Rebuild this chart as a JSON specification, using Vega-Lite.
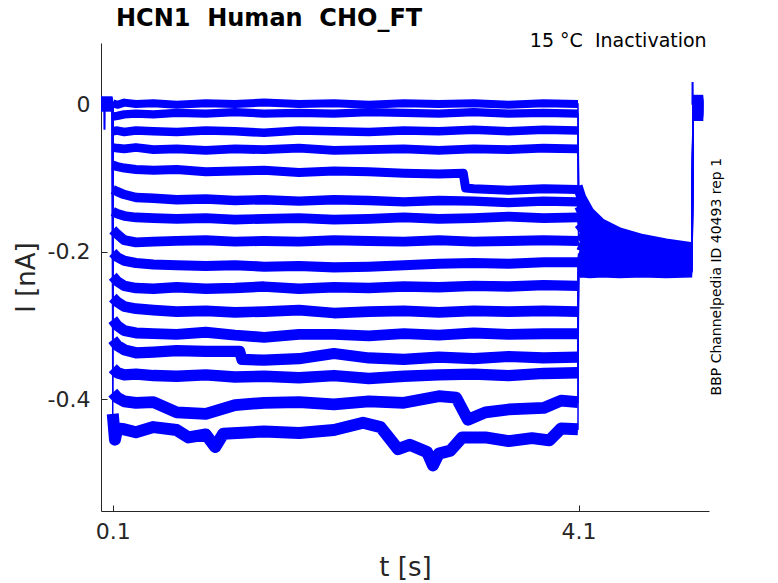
{
  "$schema": "https://vega.github.io/schema/vega-lite/v6.json",
  "autosize": {"type": "none"},
  "padding": {"left": 101, "top": 43, "right": 69, "bottom": 72},
  "width": 608,
  "height": 468,
  "background": "white",
  "title": {
    "text": "HCN1\u00a0 Human\u00a0 CHO_FT",
    "anchor": "start",
    "frame": "group",
    "dx": 15,
    "offset": 1,
    "font": "DejaVu Sans",
    "fontSize": 24,
    "fontWeight": "bold",
    "color": "#000000"
  },
  "data": {
    "values": [
      {"sweep": 1, "part": "base", "t": 0, "i": 0.002},
      {"sweep": 1, "part": "base", "t": 0.099, "i": 0.002},
      {"sweep": 1, "part": "test", "t": 0.101, "i": 0.002},
      {"sweep": 1, "part": "test", "t": 0.14, "i": 0.0},
      {"sweep": 1, "part": "test", "t": 0.2, "i": 0.003},
      {"sweep": 1, "part": "test", "t": 0.3, "i": 0.001},
      {"sweep": 1, "part": "test", "t": 0.45, "i": 0.002},
      {"sweep": 1, "part": "test", "t": 0.65, "i": 0.0},
      {"sweep": 1, "part": "test", "t": 0.9, "i": 0.002},
      {"sweep": 1, "part": "test", "t": 1.15, "i": 0.001},
      {"sweep": 1, "part": "test", "t": 1.4, "i": 0.003},
      {"sweep": 1, "part": "test", "t": 1.7, "i": 0.001},
      {"sweep": 1, "part": "test", "t": 2.0, "i": 0.002},
      {"sweep": 1, "part": "test", "t": 2.3, "i": 0.0},
      {"sweep": 1, "part": "test", "t": 2.6, "i": 0.002},
      {"sweep": 1, "part": "test", "t": 2.9, "i": 0.001},
      {"sweep": 1, "part": "test", "t": 3.2, "i": 0.002},
      {"sweep": 1, "part": "test", "t": 3.5, "i": 0.0},
      {"sweep": 1, "part": "test", "t": 3.8, "i": 0.002},
      {"sweep": 1, "part": "test", "t": 4.095, "i": 0.001},
      {"sweep": 1, "part": "tail", "t": 4.1, "i": -0.11},
      {"sweep": 1, "part": "tail", "t": 4.13, "i": -0.125},
      {"sweep": 1, "part": "tail", "t": 4.2, "i": -0.145},
      {"sweep": 1, "part": "tail", "t": 4.3, "i": -0.16},
      {"sweep": 1, "part": "tail", "t": 4.45, "i": -0.172},
      {"sweep": 1, "part": "tail", "t": 4.65, "i": -0.181},
      {"sweep": 1, "part": "tail", "t": 4.85, "i": -0.187},
      {"sweep": 1, "part": "tail", "t": 5.075, "i": -0.192},
      {"sweep": 1, "part": "post", "t": 5.082, "i": 0.004},
      {"sweep": 1, "part": "post", "t": 5.17, "i": 0.004},

      {"sweep": 2, "part": "base", "t": 0, "i": 0.0},
      {"sweep": 2, "part": "base", "t": 0.099, "i": 0.0},
      {"sweep": 2, "part": "test", "t": 0.101, "i": -0.016},
      {"sweep": 2, "part": "test", "t": 0.14, "i": -0.015},
      {"sweep": 2, "part": "test", "t": 0.2, "i": -0.013},
      {"sweep": 2, "part": "test", "t": 0.3, "i": -0.012},
      {"sweep": 2, "part": "test", "t": 0.45, "i": -0.013},
      {"sweep": 2, "part": "test", "t": 0.65, "i": -0.011},
      {"sweep": 2, "part": "test", "t": 0.9, "i": -0.012},
      {"sweep": 2, "part": "test", "t": 1.15, "i": -0.01},
      {"sweep": 2, "part": "test", "t": 1.4, "i": -0.012},
      {"sweep": 2, "part": "test", "t": 1.7, "i": -0.011},
      {"sweep": 2, "part": "test", "t": 2.0, "i": -0.012},
      {"sweep": 2, "part": "test", "t": 2.3, "i": -0.01},
      {"sweep": 2, "part": "test", "t": 2.6, "i": -0.011},
      {"sweep": 2, "part": "test", "t": 2.9, "i": -0.012},
      {"sweep": 2, "part": "test", "t": 3.2, "i": -0.01},
      {"sweep": 2, "part": "test", "t": 3.5, "i": -0.012},
      {"sweep": 2, "part": "test", "t": 3.8, "i": -0.011},
      {"sweep": 2, "part": "test", "t": 4.095, "i": -0.012},
      {"sweep": 2, "part": "tail", "t": 4.1, "i": -0.118},
      {"sweep": 2, "part": "tail", "t": 4.13, "i": -0.132},
      {"sweep": 2, "part": "tail", "t": 4.2, "i": -0.15},
      {"sweep": 2, "part": "tail", "t": 4.3, "i": -0.165},
      {"sweep": 2, "part": "tail", "t": 4.45, "i": -0.176},
      {"sweep": 2, "part": "tail", "t": 4.65, "i": -0.184},
      {"sweep": 2, "part": "tail", "t": 4.85, "i": -0.19},
      {"sweep": 2, "part": "tail", "t": 5.075, "i": -0.195},
      {"sweep": 2, "part": "post", "t": 5.082, "i": -0.002},
      {"sweep": 2, "part": "post", "t": 5.17, "i": -0.002},

      {"sweep": 3, "part": "base", "t": 0, "i": 0.004},
      {"sweep": 3, "part": "base", "t": 0.099, "i": 0.004},
      {"sweep": 3, "part": "test", "t": 0.101, "i": -0.036},
      {"sweep": 3, "part": "test", "t": 0.14, "i": -0.035},
      {"sweep": 3, "part": "test", "t": 0.2, "i": -0.037},
      {"sweep": 3, "part": "test", "t": 0.3, "i": -0.035},
      {"sweep": 3, "part": "test", "t": 0.45, "i": -0.036},
      {"sweep": 3, "part": "test", "t": 0.65, "i": -0.037},
      {"sweep": 3, "part": "test", "t": 0.9, "i": -0.035},
      {"sweep": 3, "part": "test", "t": 1.15, "i": -0.036},
      {"sweep": 3, "part": "test", "t": 1.4, "i": -0.038},
      {"sweep": 3, "part": "test", "t": 1.7, "i": -0.035},
      {"sweep": 3, "part": "test", "t": 2.0, "i": -0.036},
      {"sweep": 3, "part": "test", "t": 2.3, "i": -0.037},
      {"sweep": 3, "part": "test", "t": 2.6, "i": -0.035},
      {"sweep": 3, "part": "test", "t": 2.9, "i": -0.036},
      {"sweep": 3, "part": "test", "t": 3.2, "i": -0.034},
      {"sweep": 3, "part": "test", "t": 3.5, "i": -0.036},
      {"sweep": 3, "part": "test", "t": 3.8, "i": -0.034},
      {"sweep": 3, "part": "test", "t": 4.095, "i": -0.035},
      {"sweep": 3, "part": "tail", "t": 4.1, "i": -0.128},
      {"sweep": 3, "part": "tail", "t": 4.13, "i": -0.14},
      {"sweep": 3, "part": "tail", "t": 4.2, "i": -0.156},
      {"sweep": 3, "part": "tail", "t": 4.3, "i": -0.17},
      {"sweep": 3, "part": "tail", "t": 4.45, "i": -0.18},
      {"sweep": 3, "part": "tail", "t": 4.65, "i": -0.188},
      {"sweep": 3, "part": "tail", "t": 4.85, "i": -0.193},
      {"sweep": 3, "part": "tail", "t": 5.075, "i": -0.197},
      {"sweep": 3, "part": "post", "t": 5.082, "i": 0.007},
      {"sweep": 3, "part": "post", "t": 5.17, "i": 0.007},

      {"sweep": 4, "part": "base", "t": 0, "i": -0.002},
      {"sweep": 4, "part": "base", "t": 0.099, "i": -0.002},
      {"sweep": 4, "part": "test", "t": 0.101, "i": -0.058},
      {"sweep": 4, "part": "test", "t": 0.14, "i": -0.059},
      {"sweep": 4, "part": "test", "t": 0.2, "i": -0.06},
      {"sweep": 4, "part": "test", "t": 0.3, "i": -0.058},
      {"sweep": 4, "part": "test", "t": 0.45, "i": -0.061},
      {"sweep": 4, "part": "test", "t": 0.65, "i": -0.06},
      {"sweep": 4, "part": "test", "t": 0.9, "i": -0.062},
      {"sweep": 4, "part": "test", "t": 1.15, "i": -0.06},
      {"sweep": 4, "part": "test", "t": 1.4, "i": -0.061},
      {"sweep": 4, "part": "test", "t": 1.7, "i": -0.059},
      {"sweep": 4, "part": "test", "t": 2.0, "i": -0.062},
      {"sweep": 4, "part": "test", "t": 2.3, "i": -0.061},
      {"sweep": 4, "part": "test", "t": 2.6, "i": -0.06},
      {"sweep": 4, "part": "test", "t": 2.9, "i": -0.062},
      {"sweep": 4, "part": "test", "t": 3.2, "i": -0.06},
      {"sweep": 4, "part": "test", "t": 3.5, "i": -0.061},
      {"sweep": 4, "part": "test", "t": 3.8, "i": -0.059},
      {"sweep": 4, "part": "test", "t": 4.095, "i": -0.06},
      {"sweep": 4, "part": "tail", "t": 4.1, "i": -0.138},
      {"sweep": 4, "part": "tail", "t": 4.13, "i": -0.148},
      {"sweep": 4, "part": "tail", "t": 4.2, "i": -0.162},
      {"sweep": 4, "part": "tail", "t": 4.3, "i": -0.175},
      {"sweep": 4, "part": "tail", "t": 4.45, "i": -0.184},
      {"sweep": 4, "part": "tail", "t": 4.65, "i": -0.191},
      {"sweep": 4, "part": "tail", "t": 4.85, "i": -0.196},
      {"sweep": 4, "part": "tail", "t": 5.075, "i": -0.199},
      {"sweep": 4, "part": "post", "t": 5.082, "i": -0.008},
      {"sweep": 4, "part": "post", "t": 5.17, "i": -0.008},

      {"sweep": 5, "part": "base", "t": 0, "i": 0.001},
      {"sweep": 5, "part": "base", "t": 0.099, "i": 0.001},
      {"sweep": 5, "part": "test", "t": 0.101, "i": -0.082},
      {"sweep": 5, "part": "test", "t": 0.14, "i": -0.084},
      {"sweep": 5, "part": "test", "t": 0.2, "i": -0.086},
      {"sweep": 5, "part": "test", "t": 0.3, "i": -0.088},
      {"sweep": 5, "part": "test", "t": 0.45, "i": -0.089},
      {"sweep": 5, "part": "test", "t": 0.65, "i": -0.088},
      {"sweep": 5, "part": "test", "t": 0.9, "i": -0.091},
      {"sweep": 5, "part": "test", "t": 1.15, "i": -0.09},
      {"sweep": 5, "part": "test", "t": 1.4, "i": -0.089},
      {"sweep": 5, "part": "test", "t": 1.7, "i": -0.092},
      {"sweep": 5, "part": "test", "t": 2.0, "i": -0.09},
      {"sweep": 5, "part": "test", "t": 2.3, "i": -0.091},
      {"sweep": 5, "part": "test", "t": 2.6, "i": -0.093},
      {"sweep": 5, "part": "test", "t": 2.9, "i": -0.094},
      {"sweep": 5, "part": "test", "t": 3.11, "i": -0.093},
      {"sweep": 5, "part": "test", "t": 3.13, "i": -0.113},
      {"sweep": 5, "part": "test", "t": 3.2, "i": -0.114},
      {"sweep": 5, "part": "test", "t": 3.5, "i": -0.116},
      {"sweep": 5, "part": "test", "t": 3.8, "i": -0.114},
      {"sweep": 5, "part": "test", "t": 4.095, "i": -0.115},
      {"sweep": 5, "part": "tail", "t": 4.1, "i": -0.15},
      {"sweep": 5, "part": "tail", "t": 4.13, "i": -0.158},
      {"sweep": 5, "part": "tail", "t": 4.2, "i": -0.17},
      {"sweep": 5, "part": "tail", "t": 4.3, "i": -0.181},
      {"sweep": 5, "part": "tail", "t": 4.45, "i": -0.189},
      {"sweep": 5, "part": "tail", "t": 4.65, "i": -0.195},
      {"sweep": 5, "part": "tail", "t": 4.85, "i": -0.199},
      {"sweep": 5, "part": "tail", "t": 5.075, "i": -0.202},
      {"sweep": 5, "part": "post", "t": 5.082, "i": 0.001},
      {"sweep": 5, "part": "post", "t": 5.17, "i": 0.001},

      {"sweep": 6, "part": "base", "t": 0, "i": 0.003},
      {"sweep": 6, "part": "base", "t": 0.099, "i": 0.003},
      {"sweep": 6, "part": "test", "t": 0.101, "i": -0.115},
      {"sweep": 6, "part": "test", "t": 0.14, "i": -0.118},
      {"sweep": 6, "part": "test", "t": 0.2, "i": -0.122},
      {"sweep": 6, "part": "test", "t": 0.3, "i": -0.126},
      {"sweep": 6, "part": "test", "t": 0.45, "i": -0.127},
      {"sweep": 6, "part": "test", "t": 0.65, "i": -0.129},
      {"sweep": 6, "part": "test", "t": 0.9, "i": -0.128},
      {"sweep": 6, "part": "test", "t": 1.15, "i": -0.13},
      {"sweep": 6, "part": "test", "t": 1.4, "i": -0.129},
      {"sweep": 6, "part": "test", "t": 1.7, "i": -0.131},
      {"sweep": 6, "part": "test", "t": 2.0, "i": -0.129},
      {"sweep": 6, "part": "test", "t": 2.3, "i": -0.13},
      {"sweep": 6, "part": "test", "t": 2.6, "i": -0.132},
      {"sweep": 6, "part": "test", "t": 2.9, "i": -0.13},
      {"sweep": 6, "part": "test", "t": 3.2, "i": -0.131},
      {"sweep": 6, "part": "test", "t": 3.5, "i": -0.133},
      {"sweep": 6, "part": "test", "t": 3.8, "i": -0.131},
      {"sweep": 6, "part": "test", "t": 4.095, "i": -0.132},
      {"sweep": 6, "part": "tail", "t": 4.1, "i": -0.162},
      {"sweep": 6, "part": "tail", "t": 4.13, "i": -0.168},
      {"sweep": 6, "part": "tail", "t": 4.2, "i": -0.178},
      {"sweep": 6, "part": "tail", "t": 4.3, "i": -0.187},
      {"sweep": 6, "part": "tail", "t": 4.45, "i": -0.194},
      {"sweep": 6, "part": "tail", "t": 4.65, "i": -0.199},
      {"sweep": 6, "part": "tail", "t": 4.85, "i": -0.203},
      {"sweep": 6, "part": "tail", "t": 5.075, "i": -0.205},
      {"sweep": 6, "part": "post", "t": 5.082, "i": -0.012},
      {"sweep": 6, "part": "post", "t": 5.17, "i": -0.012},

      {"sweep": 7, "part": "base", "t": 0, "i": -0.001},
      {"sweep": 7, "part": "base", "t": 0.099, "i": -0.001},
      {"sweep": 7, "part": "test", "t": 0.101, "i": -0.145},
      {"sweep": 7, "part": "test", "t": 0.14, "i": -0.148},
      {"sweep": 7, "part": "test", "t": 0.2, "i": -0.151},
      {"sweep": 7, "part": "test", "t": 0.3, "i": -0.153},
      {"sweep": 7, "part": "test", "t": 0.45, "i": -0.154},
      {"sweep": 7, "part": "test", "t": 0.65, "i": -0.155},
      {"sweep": 7, "part": "test", "t": 0.9, "i": -0.154},
      {"sweep": 7, "part": "test", "t": 1.15, "i": -0.156},
      {"sweep": 7, "part": "test", "t": 1.4, "i": -0.155},
      {"sweep": 7, "part": "test", "t": 1.7, "i": -0.154},
      {"sweep": 7, "part": "test", "t": 2.0, "i": -0.156},
      {"sweep": 7, "part": "test", "t": 2.3, "i": -0.155},
      {"sweep": 7, "part": "test", "t": 2.6, "i": -0.153},
      {"sweep": 7, "part": "test", "t": 2.9, "i": -0.155},
      {"sweep": 7, "part": "test", "t": 3.2, "i": -0.154},
      {"sweep": 7, "part": "test", "t": 3.5, "i": -0.152},
      {"sweep": 7, "part": "test", "t": 3.8, "i": -0.154},
      {"sweep": 7, "part": "test", "t": 4.095, "i": -0.153},
      {"sweep": 7, "part": "tail", "t": 4.1, "i": -0.176},
      {"sweep": 7, "part": "tail", "t": 4.13, "i": -0.18},
      {"sweep": 7, "part": "tail", "t": 4.2, "i": -0.187},
      {"sweep": 7, "part": "tail", "t": 4.3, "i": -0.194},
      {"sweep": 7, "part": "tail", "t": 4.45, "i": -0.2},
      {"sweep": 7, "part": "tail", "t": 4.65, "i": -0.204},
      {"sweep": 7, "part": "tail", "t": 4.85, "i": -0.207},
      {"sweep": 7, "part": "tail", "t": 5.075, "i": -0.208},
      {"sweep": 7, "part": "post", "t": 5.082, "i": 0.005},
      {"sweep": 7, "part": "post", "t": 5.17, "i": 0.005},

      {"sweep": 8, "part": "base", "t": 0, "i": 0.002},
      {"sweep": 8, "part": "base", "t": 0.099, "i": 0.002},
      {"sweep": 8, "part": "test", "t": 0.101, "i": -0.17},
      {"sweep": 8, "part": "test", "t": 0.14, "i": -0.176},
      {"sweep": 8, "part": "test", "t": 0.2, "i": -0.184},
      {"sweep": 8, "part": "test", "t": 0.3, "i": -0.187},
      {"sweep": 8, "part": "test", "t": 0.45, "i": -0.186},
      {"sweep": 8, "part": "test", "t": 0.65, "i": -0.185},
      {"sweep": 8, "part": "test", "t": 0.9, "i": -0.184},
      {"sweep": 8, "part": "test", "t": 1.15, "i": -0.186},
      {"sweep": 8, "part": "test", "t": 1.4, "i": -0.185},
      {"sweep": 8, "part": "test", "t": 1.7, "i": -0.186},
      {"sweep": 8, "part": "test", "t": 2.0, "i": -0.184},
      {"sweep": 8, "part": "test", "t": 2.3, "i": -0.185},
      {"sweep": 8, "part": "test", "t": 2.6, "i": -0.186},
      {"sweep": 8, "part": "test", "t": 2.9, "i": -0.184},
      {"sweep": 8, "part": "test", "t": 3.2, "i": -0.186},
      {"sweep": 8, "part": "test", "t": 3.5, "i": -0.185},
      {"sweep": 8, "part": "test", "t": 3.8, "i": -0.184},
      {"sweep": 8, "part": "test", "t": 4.095, "i": -0.185},
      {"sweep": 8, "part": "tail", "t": 4.1, "i": -0.19},
      {"sweep": 8, "part": "tail", "t": 4.13, "i": -0.192},
      {"sweep": 8, "part": "tail", "t": 4.2, "i": -0.197},
      {"sweep": 8, "part": "tail", "t": 4.3, "i": -0.202},
      {"sweep": 8, "part": "tail", "t": 4.45, "i": -0.206},
      {"sweep": 8, "part": "tail", "t": 4.65, "i": -0.209},
      {"sweep": 8, "part": "tail", "t": 4.85, "i": -0.211},
      {"sweep": 8, "part": "tail", "t": 5.075, "i": -0.212},
      {"sweep": 8, "part": "post", "t": 5.082, "i": -0.004},
      {"sweep": 8, "part": "post", "t": 5.17, "i": -0.004},

      {"sweep": 9, "part": "base", "t": 0, "i": 0.0},
      {"sweep": 9, "part": "base", "t": 0.099, "i": 0.0},
      {"sweep": 9, "part": "test", "t": 0.101, "i": -0.201},
      {"sweep": 9, "part": "test", "t": 0.14, "i": -0.207},
      {"sweep": 9, "part": "test", "t": 0.2, "i": -0.212},
      {"sweep": 9, "part": "test", "t": 0.3, "i": -0.215},
      {"sweep": 9, "part": "test", "t": 0.45, "i": -0.217},
      {"sweep": 9, "part": "test", "t": 0.65, "i": -0.218},
      {"sweep": 9, "part": "test", "t": 0.9, "i": -0.219},
      {"sweep": 9, "part": "test", "t": 1.15, "i": -0.218},
      {"sweep": 9, "part": "test", "t": 1.4, "i": -0.22},
      {"sweep": 9, "part": "test", "t": 1.7, "i": -0.219},
      {"sweep": 9, "part": "test", "t": 2.0, "i": -0.221},
      {"sweep": 9, "part": "test", "t": 2.3, "i": -0.22},
      {"sweep": 9, "part": "test", "t": 2.6, "i": -0.218},
      {"sweep": 9, "part": "test", "t": 2.9, "i": -0.216},
      {"sweep": 9, "part": "test", "t": 3.2, "i": -0.215},
      {"sweep": 9, "part": "test", "t": 3.5, "i": -0.216},
      {"sweep": 9, "part": "test", "t": 3.8, "i": -0.214},
      {"sweep": 9, "part": "test", "t": 4.095, "i": -0.214},
      {"sweep": 9, "part": "tail", "t": 4.1, "i": -0.203},
      {"sweep": 9, "part": "tail", "t": 4.13, "i": -0.204},
      {"sweep": 9, "part": "tail", "t": 4.2, "i": -0.207},
      {"sweep": 9, "part": "tail", "t": 4.3, "i": -0.21},
      {"sweep": 9, "part": "tail", "t": 4.45, "i": -0.212},
      {"sweep": 9, "part": "tail", "t": 4.65, "i": -0.214},
      {"sweep": 9, "part": "tail", "t": 4.85, "i": -0.215},
      {"sweep": 9, "part": "tail", "t": 5.075, "i": -0.215},
      {"sweep": 9, "part": "post", "t": 5.082, "i": -0.015},
      {"sweep": 9, "part": "post", "t": 5.17, "i": -0.015},

      {"sweep": 10, "part": "base", "t": 0, "i": 0.003},
      {"sweep": 10, "part": "base", "t": 0.099, "i": 0.003},
      {"sweep": 10, "part": "test", "t": 0.101, "i": -0.233},
      {"sweep": 10, "part": "test", "t": 0.14, "i": -0.24},
      {"sweep": 10, "part": "test", "t": 0.2, "i": -0.246},
      {"sweep": 10, "part": "test", "t": 0.3, "i": -0.249},
      {"sweep": 10, "part": "test", "t": 0.45, "i": -0.25},
      {"sweep": 10, "part": "test", "t": 0.65, "i": -0.248},
      {"sweep": 10, "part": "test", "t": 0.9, "i": -0.25},
      {"sweep": 10, "part": "test", "t": 1.15, "i": -0.249},
      {"sweep": 10, "part": "test", "t": 1.4, "i": -0.247},
      {"sweep": 10, "part": "test", "t": 1.7, "i": -0.25},
      {"sweep": 10, "part": "test", "t": 2.0, "i": -0.248},
      {"sweep": 10, "part": "test", "t": 2.3, "i": -0.249},
      {"sweep": 10, "part": "test", "t": 2.6, "i": -0.247},
      {"sweep": 10, "part": "test", "t": 2.9, "i": -0.248},
      {"sweep": 10, "part": "test", "t": 3.2, "i": -0.246},
      {"sweep": 10, "part": "test", "t": 3.5, "i": -0.247},
      {"sweep": 10, "part": "test", "t": 3.8, "i": -0.245},
      {"sweep": 10, "part": "test", "t": 4.095, "i": -0.246},
      {"sweep": 10, "part": "tail", "t": 4.1, "i": -0.212},
      {"sweep": 10, "part": "tail", "t": 4.13, "i": -0.213},
      {"sweep": 10, "part": "tail", "t": 4.2, "i": -0.215},
      {"sweep": 10, "part": "tail", "t": 4.3, "i": -0.216},
      {"sweep": 10, "part": "tail", "t": 4.45, "i": -0.217},
      {"sweep": 10, "part": "tail", "t": 4.65, "i": -0.218},
      {"sweep": 10, "part": "tail", "t": 4.85, "i": -0.218},
      {"sweep": 10, "part": "tail", "t": 5.075, "i": -0.218},
      {"sweep": 10, "part": "post", "t": 5.082, "i": 0.002},
      {"sweep": 10, "part": "post", "t": 5.17, "i": 0.002},

      {"sweep": 11, "part": "base", "t": 0, "i": -0.002},
      {"sweep": 11, "part": "base", "t": 0.099, "i": -0.002},
      {"sweep": 11, "part": "test", "t": 0.101, "i": -0.262},
      {"sweep": 11, "part": "test", "t": 0.14, "i": -0.268},
      {"sweep": 11, "part": "test", "t": 0.2, "i": -0.274},
      {"sweep": 11, "part": "test", "t": 0.3, "i": -0.277},
      {"sweep": 11, "part": "test", "t": 0.45, "i": -0.279},
      {"sweep": 11, "part": "test", "t": 0.65, "i": -0.281},
      {"sweep": 11, "part": "test", "t": 0.9, "i": -0.28},
      {"sweep": 11, "part": "test", "t": 1.15, "i": -0.282},
      {"sweep": 11, "part": "test", "t": 1.4, "i": -0.281},
      {"sweep": 11, "part": "test", "t": 1.7, "i": -0.279},
      {"sweep": 11, "part": "test", "t": 2.0, "i": -0.283},
      {"sweep": 11, "part": "test", "t": 2.3, "i": -0.281},
      {"sweep": 11, "part": "test", "t": 2.6, "i": -0.28},
      {"sweep": 11, "part": "test", "t": 2.9, "i": -0.282},
      {"sweep": 11, "part": "test", "t": 3.2, "i": -0.28},
      {"sweep": 11, "part": "test", "t": 3.5, "i": -0.281},
      {"sweep": 11, "part": "test", "t": 3.8, "i": -0.28},
      {"sweep": 11, "part": "test", "t": 4.095, "i": -0.281},
      {"sweep": 11, "part": "tail", "t": 4.1, "i": -0.22},
      {"sweep": 11, "part": "tail", "t": 4.13, "i": -0.219},
      {"sweep": 11, "part": "tail", "t": 4.2, "i": -0.221},
      {"sweep": 11, "part": "tail", "t": 4.3, "i": -0.22},
      {"sweep": 11, "part": "tail", "t": 4.45, "i": -0.221},
      {"sweep": 11, "part": "tail", "t": 4.65, "i": -0.221},
      {"sweep": 11, "part": "tail", "t": 4.85, "i": -0.22},
      {"sweep": 11, "part": "tail", "t": 5.075, "i": -0.221},
      {"sweep": 11, "part": "post", "t": 5.082, "i": -0.006},
      {"sweep": 11, "part": "post", "t": 5.17, "i": -0.006},

      {"sweep": 12, "part": "base", "t": 0, "i": 0.001},
      {"sweep": 12, "part": "base", "t": 0.099, "i": 0.001},
      {"sweep": 12, "part": "test", "t": 0.101, "i": -0.292},
      {"sweep": 12, "part": "test", "t": 0.14, "i": -0.3},
      {"sweep": 12, "part": "test", "t": 0.2, "i": -0.307},
      {"sweep": 12, "part": "test", "t": 0.3, "i": -0.31},
      {"sweep": 12, "part": "test", "t": 0.45, "i": -0.311},
      {"sweep": 12, "part": "test", "t": 0.65, "i": -0.312},
      {"sweep": 12, "part": "test", "t": 0.9, "i": -0.309},
      {"sweep": 12, "part": "test", "t": 1.15, "i": -0.313},
      {"sweep": 12, "part": "test", "t": 1.4, "i": -0.316},
      {"sweep": 12, "part": "test", "t": 1.7, "i": -0.312},
      {"sweep": 12, "part": "test", "t": 2.0, "i": -0.312},
      {"sweep": 12, "part": "test", "t": 2.3, "i": -0.314},
      {"sweep": 12, "part": "test", "t": 2.6, "i": -0.311},
      {"sweep": 12, "part": "test", "t": 2.9, "i": -0.313},
      {"sweep": 12, "part": "test", "t": 3.2, "i": -0.31},
      {"sweep": 12, "part": "test", "t": 3.5, "i": -0.312},
      {"sweep": 12, "part": "test", "t": 3.8, "i": -0.311},
      {"sweep": 12, "part": "test", "t": 4.095, "i": -0.311},
      {"sweep": 12, "part": "tail", "t": 4.1, "i": -0.225},
      {"sweep": 12, "part": "tail", "t": 4.13, "i": -0.224},
      {"sweep": 12, "part": "tail", "t": 4.2, "i": -0.225},
      {"sweep": 12, "part": "tail", "t": 4.3, "i": -0.224},
      {"sweep": 12, "part": "tail", "t": 4.45, "i": -0.225},
      {"sweep": 12, "part": "tail", "t": 4.65, "i": -0.224},
      {"sweep": 12, "part": "tail", "t": 4.85, "i": -0.225},
      {"sweep": 12, "part": "tail", "t": 5.075, "i": -0.224},
      {"sweep": 12, "part": "post", "t": 5.082, "i": -0.01},
      {"sweep": 12, "part": "post", "t": 5.17, "i": -0.01},

      {"sweep": 13, "part": "base", "t": 0, "i": 0.004},
      {"sweep": 13, "part": "base", "t": 0.099, "i": 0.004},
      {"sweep": 13, "part": "test", "t": 0.101, "i": -0.319},
      {"sweep": 13, "part": "test", "t": 0.14, "i": -0.327},
      {"sweep": 13, "part": "test", "t": 0.2, "i": -0.333},
      {"sweep": 13, "part": "test", "t": 0.3, "i": -0.337},
      {"sweep": 13, "part": "test", "t": 0.45, "i": -0.336},
      {"sweep": 13, "part": "test", "t": 0.65, "i": -0.334},
      {"sweep": 13, "part": "test", "t": 0.9, "i": -0.335},
      {"sweep": 13, "part": "test", "t": 1.19, "i": -0.335},
      {"sweep": 13, "part": "test", "t": 1.21, "i": -0.346},
      {"sweep": 13, "part": "test", "t": 1.4, "i": -0.347},
      {"sweep": 13, "part": "test", "t": 1.7, "i": -0.345},
      {"sweep": 13, "part": "test", "t": 2.0, "i": -0.338},
      {"sweep": 13, "part": "test", "t": 2.3, "i": -0.344},
      {"sweep": 13, "part": "test", "t": 2.6, "i": -0.346},
      {"sweep": 13, "part": "test", "t": 2.9, "i": -0.343},
      {"sweep": 13, "part": "test", "t": 3.2, "i": -0.345},
      {"sweep": 13, "part": "test", "t": 3.5, "i": -0.342},
      {"sweep": 13, "part": "test", "t": 3.8, "i": -0.344},
      {"sweep": 13, "part": "test", "t": 4.095, "i": -0.343},
      {"sweep": 13, "part": "tail", "t": 4.1, "i": -0.228},
      {"sweep": 13, "part": "tail", "t": 4.13, "i": -0.227},
      {"sweep": 13, "part": "tail", "t": 4.2, "i": -0.228},
      {"sweep": 13, "part": "tail", "t": 4.3, "i": -0.227},
      {"sweep": 13, "part": "tail", "t": 4.45, "i": -0.228},
      {"sweep": 13, "part": "tail", "t": 4.65, "i": -0.227},
      {"sweep": 13, "part": "tail", "t": 4.85, "i": -0.228},
      {"sweep": 13, "part": "tail", "t": 5.075, "i": -0.227},
      {"sweep": 13, "part": "post", "t": 5.082, "i": 0.006},
      {"sweep": 13, "part": "post", "t": 5.17, "i": 0.006},

      {"sweep": 14, "part": "base", "t": 0, "i": -0.001},
      {"sweep": 14, "part": "base", "t": 0.099, "i": -0.001},
      {"sweep": 14, "part": "test", "t": 0.101, "i": -0.358},
      {"sweep": 14, "part": "test", "t": 0.14, "i": -0.364},
      {"sweep": 14, "part": "test", "t": 0.2, "i": -0.367},
      {"sweep": 14, "part": "test", "t": 0.3, "i": -0.366},
      {"sweep": 14, "part": "test", "t": 0.45, "i": -0.368},
      {"sweep": 14, "part": "test", "t": 0.65, "i": -0.369},
      {"sweep": 14, "part": "test", "t": 0.9, "i": -0.367},
      {"sweep": 14, "part": "test", "t": 1.15, "i": -0.37},
      {"sweep": 14, "part": "test", "t": 1.4, "i": -0.369},
      {"sweep": 14, "part": "test", "t": 1.7, "i": -0.371},
      {"sweep": 14, "part": "test", "t": 2.0, "i": -0.368},
      {"sweep": 14, "part": "test", "t": 2.3, "i": -0.372},
      {"sweep": 14, "part": "test", "t": 2.6, "i": -0.369},
      {"sweep": 14, "part": "test", "t": 2.9, "i": -0.367},
      {"sweep": 14, "part": "test", "t": 3.2, "i": -0.366},
      {"sweep": 14, "part": "test", "t": 3.5, "i": -0.368},
      {"sweep": 14, "part": "test", "t": 3.8, "i": -0.365},
      {"sweep": 14, "part": "test", "t": 4.095, "i": -0.364},
      {"sweep": 14, "part": "tail", "t": 4.1, "i": -0.222},
      {"sweep": 14, "part": "tail", "t": 4.13, "i": -0.223},
      {"sweep": 14, "part": "tail", "t": 4.2, "i": -0.222},
      {"sweep": 14, "part": "tail", "t": 4.3, "i": -0.223},
      {"sweep": 14, "part": "tail", "t": 4.45, "i": -0.222},
      {"sweep": 14, "part": "tail", "t": 4.65, "i": -0.223},
      {"sweep": 14, "part": "tail", "t": 4.85, "i": -0.222},
      {"sweep": 14, "part": "tail", "t": 5.075, "i": -0.223},
      {"sweep": 14, "part": "post", "t": 5.082, "i": -0.001},
      {"sweep": 14, "part": "post", "t": 5.17, "i": -0.001},

      {"sweep": 15, "part": "base", "t": 0, "i": 0.002},
      {"sweep": 15, "part": "base", "t": 0.099, "i": 0.002},
      {"sweep": 15, "part": "test", "t": 0.101, "i": -0.391},
      {"sweep": 15, "part": "test", "t": 0.14, "i": -0.398},
      {"sweep": 15, "part": "test", "t": 0.2, "i": -0.403},
      {"sweep": 15, "part": "test", "t": 0.3, "i": -0.405},
      {"sweep": 15, "part": "test", "t": 0.45, "i": -0.404},
      {"sweep": 15, "part": "test", "t": 0.65, "i": -0.418},
      {"sweep": 15, "part": "test", "t": 0.9, "i": -0.42},
      {"sweep": 15, "part": "test", "t": 1.15, "i": -0.408},
      {"sweep": 15, "part": "test", "t": 1.4, "i": -0.405},
      {"sweep": 15, "part": "test", "t": 1.7, "i": -0.404},
      {"sweep": 15, "part": "test", "t": 2.0, "i": -0.407},
      {"sweep": 15, "part": "test", "t": 2.3, "i": -0.403},
      {"sweep": 15, "part": "test", "t": 2.6, "i": -0.405},
      {"sweep": 15, "part": "test", "t": 2.9, "i": -0.396},
      {"sweep": 15, "part": "test", "t": 3.05, "i": -0.398},
      {"sweep": 15, "part": "test", "t": 3.15, "i": -0.428},
      {"sweep": 15, "part": "test", "t": 3.3, "i": -0.418},
      {"sweep": 15, "part": "test", "t": 3.5, "i": -0.414},
      {"sweep": 15, "part": "test", "t": 3.8, "i": -0.412},
      {"sweep": 15, "part": "test", "t": 3.95, "i": -0.402},
      {"sweep": 15, "part": "test", "t": 4.095, "i": -0.404},
      {"sweep": 15, "part": "tail", "t": 4.1, "i": -0.216},
      {"sweep": 15, "part": "tail", "t": 4.13, "i": -0.217},
      {"sweep": 15, "part": "tail", "t": 4.2, "i": -0.216},
      {"sweep": 15, "part": "tail", "t": 4.3, "i": -0.217},
      {"sweep": 15, "part": "tail", "t": 4.45, "i": -0.216},
      {"sweep": 15, "part": "tail", "t": 4.65, "i": -0.217},
      {"sweep": 15, "part": "tail", "t": 4.85, "i": -0.216},
      {"sweep": 15, "part": "tail", "t": 5.075, "i": -0.217},
      {"sweep": 15, "part": "post", "t": 5.082, "i": -0.014},
      {"sweep": 15, "part": "post", "t": 5.17, "i": -0.014},

      {"sweep": 16, "part": "base", "t": 0, "i": 0.0},
      {"sweep": 16, "part": "base", "t": 0.099, "i": 0.0},
      {"sweep": 16, "part": "test", "t": 0.101, "i": -0.42},
      {"sweep": 16, "part": "test", "t": 0.12, "i": -0.455},
      {"sweep": 16, "part": "test", "t": 0.14, "i": -0.44},
      {"sweep": 16, "part": "test", "t": 0.2, "i": -0.441},
      {"sweep": 16, "part": "test", "t": 0.3, "i": -0.445},
      {"sweep": 16, "part": "test", "t": 0.45, "i": -0.438},
      {"sweep": 16, "part": "test", "t": 0.65, "i": -0.442},
      {"sweep": 16, "part": "test", "t": 0.75, "i": -0.452},
      {"sweep": 16, "part": "test", "t": 0.9, "i": -0.448},
      {"sweep": 16, "part": "test", "t": 0.98, "i": -0.465},
      {"sweep": 16, "part": "test", "t": 1.05, "i": -0.447},
      {"sweep": 16, "part": "test", "t": 1.4, "i": -0.444},
      {"sweep": 16, "part": "test", "t": 1.7, "i": -0.446},
      {"sweep": 16, "part": "test", "t": 2.0, "i": -0.442},
      {"sweep": 16, "part": "test", "t": 2.25, "i": -0.432},
      {"sweep": 16, "part": "test", "t": 2.4, "i": -0.438},
      {"sweep": 16, "part": "test", "t": 2.5, "i": -0.458},
      {"sweep": 16, "part": "test", "t": 2.55, "i": -0.468},
      {"sweep": 16, "part": "test", "t": 2.65, "i": -0.462},
      {"sweep": 16, "part": "test", "t": 2.8, "i": -0.472},
      {"sweep": 16, "part": "test", "t": 2.85, "i": -0.49},
      {"sweep": 16, "part": "test", "t": 2.9, "i": -0.474},
      {"sweep": 16, "part": "test", "t": 3.0, "i": -0.47},
      {"sweep": 16, "part": "test", "t": 3.1, "i": -0.452},
      {"sweep": 16, "part": "test", "t": 3.3, "i": -0.452},
      {"sweep": 16, "part": "test", "t": 3.5, "i": -0.457},
      {"sweep": 16, "part": "test", "t": 3.7, "i": -0.453},
      {"sweep": 16, "part": "test", "t": 3.85, "i": -0.456},
      {"sweep": 16, "part": "test", "t": 3.95, "i": -0.44},
      {"sweep": 16, "part": "test", "t": 4.095, "i": -0.441},
      {"sweep": 16, "part": "tail", "t": 4.1, "i": -0.208},
      {"sweep": 16, "part": "tail", "t": 4.13, "i": -0.21},
      {"sweep": 16, "part": "tail", "t": 4.2, "i": -0.209},
      {"sweep": 16, "part": "tail", "t": 4.3, "i": -0.21},
      {"sweep": 16, "part": "tail", "t": 4.45, "i": -0.211},
      {"sweep": 16, "part": "tail", "t": 4.65, "i": -0.211},
      {"sweep": 16, "part": "tail", "t": 4.85, "i": -0.212},
      {"sweep": 16, "part": "tail", "t": 5.075, "i": -0.212},
      {"sweep": 16, "part": "post", "t": 5.082, "i": -0.003},
      {"sweep": 16, "part": "post", "t": 5.17, "i": -0.003}
    ]
  },
  "layer": [
    {
      "mark": {"type": "line", "color": "#0000ff", "strokeJoin": "round", "strokeCap": "butt"},
      "encoding": {
        "x": {
          "field": "t",
          "type": "quantitative",
          "scale": {"domain": [0, 5.22], "nice": false, "zero": false},
          "axis": {"values": [0.1, 4.1], "format": ".1f", "title": "t [s]", "labelPadding": 16, "titlePadding": 12}
        },
        "y": {
          "field": "i",
          "type": "quantitative",
          "scale": {"domain": [-0.552, 0.084], "nice": false, "zero": false},
          "axis": {
            "values": [-0.4, -0.2, 0],
            "labelExpr": "datum.value == 0 ? '0' : '-' + format(-datum.value, '.1f')",
            "title": "I [nA]",
            "labelPadding": 17,
            "titlePadding": 8
          }
        },
        "strokeWidth": {"field": "sweep", "type": "quantitative", "scale": {"domain": [1, 16], "range": [8, 12]}, "legend": null},
        "detail": [{"field": "sweep"}, {"field": "part"}]
      }
    },
    {
      "mark": {"type": "line", "color": "#0000ff", "strokeWidth": 1.5},
      "encoding": {
        "x": {"field": "t", "type": "quantitative"},
        "y": {"field": "i", "type": "quantitative"},
        "detail": {"field": "sweep"}
      }
    },
    {
      "data": {
        "values": [
          {"spike": "start", "t": 0.028, "i": 0.0},
          {"spike": "start", "t": 0.03, "i": -0.034},
          {"spike": "start", "t": 0.032, "i": 0.0},
          {"spike": "end", "t": 5.078, "i": 0.0},
          {"spike": "end", "t": 5.079, "i": 0.031},
          {"spike": "end", "t": 5.081, "i": 0.0}
        ]
      },
      "mark": {"type": "line", "color": "#0000ff", "strokeWidth": 2},
      "encoding": {
        "x": {"field": "t", "type": "quantitative"},
        "y": {"field": "i", "type": "quantitative"},
        "detail": {"field": "spike"}
      }
    },
    {
      "data": {"values": [{"note": "15 °C\u00a0 Inactivation"}]},
      "mark": {"type": "text", "align": "right", "baseline": "alphabetic", "font": "DejaVu Sans", "fontSize": 19, "color": "#000000"},
      "encoding": {
        "x": {"datum": 5.2, "type": "quantitative"},
        "y": {"datum": 0.079, "type": "quantitative"},
        "text": {"field": "note"}
      }
    },
    {
      "data": {"values": [{"note": "BBP Channelpedia ID 40493 rep 1"}]},
      "mark": {"type": "text", "align": "center", "baseline": "middle", "angle": 270, "font": "DejaVu Sans", "fontSize": 14, "color": "#000000"},
      "encoding": {
        "x": {"datum": 5.288, "type": "quantitative"},
        "y": {"datum": -0.2336, "type": "quantitative"},
        "text": {"field": "note"}
      }
    }
  ],
  "config": {
    "view": {"stroke": null},
    "axis": {
      "grid": false,
      "domainColor": "#262626",
      "tickColor": "#262626",
      "labelColor": "#262626",
      "titleColor": "#262626",
      "labelFont": "DejaVu Sans",
      "titleFont": "DejaVu Sans",
      "labelFontSize": 22,
      "titleFontSize": 26,
      "titleFontWeight": "normal",
      "tickSize": -6,
      "tickWidth": 1,
      "domainWidth": 1
    }
  }
}
